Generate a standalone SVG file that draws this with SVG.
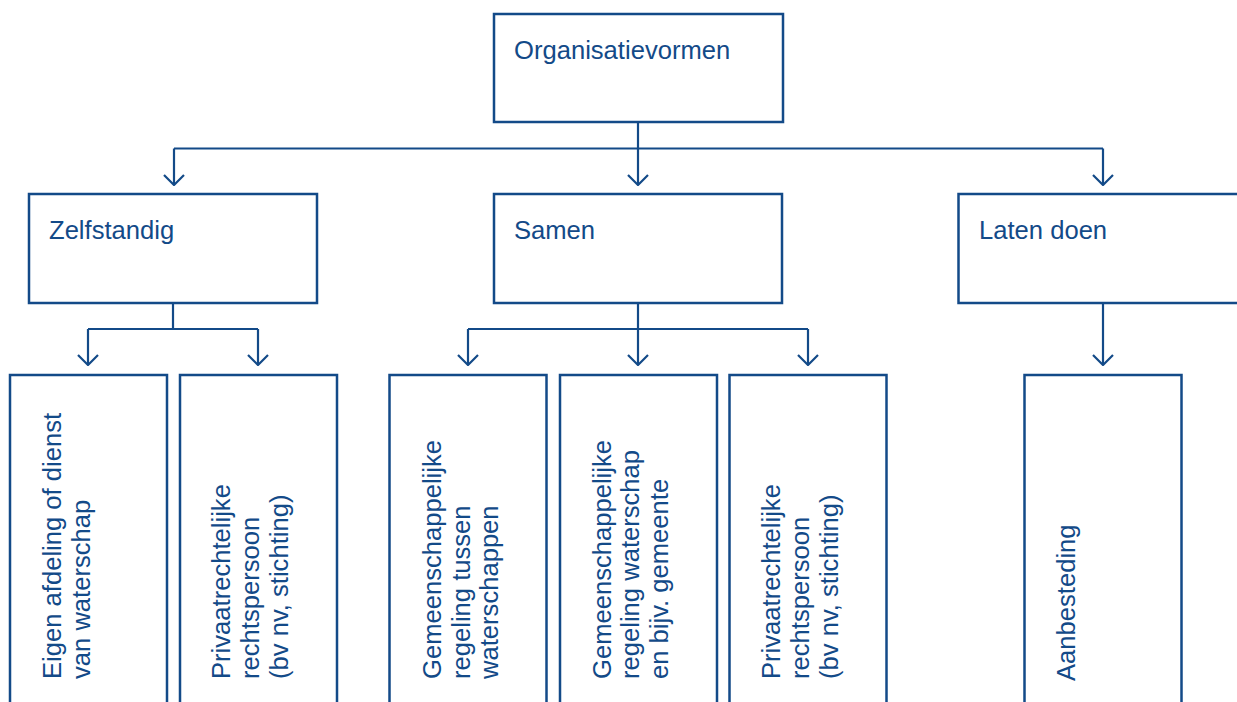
<svg xmlns="http://www.w3.org/2000/svg" width="1237" height="702" viewBox="0 0 1237 702">
  <defs>
    <style>
      .box { fill: #ffffff; stroke: #134a88; stroke-width: 2.5; }
      .lbl { font-family: "Liberation Sans", Arial, sans-serif; font-size: 25.6px; fill: #134a88; }
      .wire { fill: none; stroke: #134a88; stroke-width: 2.2; }
    </style>
    <marker id="chev" viewBox="-11 -11 12 22" refX="0" refY="0" markerWidth="12" markerHeight="22" markerUnits="userSpaceOnUse" orient="auto">
      <path d="M-10,-10 L0,0 L-10,10" fill="none" stroke="#134a88" stroke-width="2.2"/>
    </marker>
  </defs>

  <rect width="1237" height="702" fill="#ffffff"/>

  <!-- connectors -->
  <g id="connectors" class="wire">
    <path d="M638,123 V148.5"/>
    <path d="M174,148.5 H1103"/>
    <path d="M174,148.5 V185" marker-end="url(#chev)"/>
    <path d="M638,148.5 V185" marker-end="url(#chev)"/>
    <path d="M1103,148.5 V185" marker-end="url(#chev)"/>

    <path d="M173,303 V329"/>
    <path d="M88,329 H258"/>
    <path d="M88,329 V365" marker-end="url(#chev)"/>
    <path d="M258,329 V365" marker-end="url(#chev)"/>

    <path d="M638,303 V329"/>
    <path d="M468,329 H808"/>
    <path d="M468,329 V365" marker-end="url(#chev)"/>
    <path d="M638,329 V365" marker-end="url(#chev)"/>
    <path d="M808,329 V365" marker-end="url(#chev)"/>

    <path d="M1103,303 V365" marker-end="url(#chev)"/>
  </g>

  <!-- top level -->
  <g id="organisatievormen">
    <rect class="box" x="494" y="14" width="289" height="108"/>
    <text class="lbl" x="514" y="58.5">Organisatievormen</text>
  </g>

  <!-- second level -->
  <g id="zelfstandig">
    <rect class="box" x="29" y="194" width="288" height="109"/>
    <text class="lbl" x="49" y="239">Zelfstandig</text>
  </g>
  <g id="samen">
    <rect class="box" x="494" y="194" width="288" height="109"/>
    <text class="lbl" x="514" y="239">Samen</text>
  </g>
  <g id="laten-doen">
    <rect class="box" x="958.5" y="194" width="288" height="109"/>
    <text class="lbl" x="979" y="239">Laten doen</text>
  </g>

  <!-- third level: tall boxes with vertical labels -->
  <g id="eigen-afdeling">
    <rect class="box" x="10" y="375" width="157" height="340"/>
    <text class="lbl" transform="translate(60.5,679) rotate(-90)">
      <tspan x="0" y="0">Eigen afdeling of dienst</tspan>
      <tspan x="0" y="29">van waterschap</tspan>
    </text>
  </g>
  <g id="privaatrechtelijk-zelfstandig">
    <rect class="box" x="180" y="375" width="157" height="340"/>
    <text class="lbl" transform="translate(229.5,679) rotate(-90)">
      <tspan x="0" y="0">Privaatrechtelijke</tspan>
      <tspan x="0" y="29">rechtspersoon</tspan>
      <tspan x="0" y="58">(bv nv, stichting)</tspan>
    </text>
  </g>
  <g id="gr-waterschappen">
    <rect class="box" x="389.5" y="375" width="157" height="340"/>
    <text class="lbl" transform="translate(441,679) rotate(-90)">
      <tspan x="0" y="0">Gemeenschappelijke</tspan>
      <tspan x="0" y="28.5">regeling tussen</tspan>
      <tspan x="0" y="57">waterschappen</tspan>
    </text>
  </g>
  <g id="gr-gemeente">
    <rect class="box" x="560" y="375" width="157" height="340"/>
    <text class="lbl" transform="translate(610.5,679) rotate(-90)">
      <tspan x="0" y="0">Gemeenschappelijke</tspan>
      <tspan x="0" y="28.5">regeling waterschap</tspan>
      <tspan x="0" y="57">en bijv. gemeente</tspan>
    </text>
  </g>
  <g id="privaatrechtelijk-samen">
    <rect class="box" x="729.5" y="375" width="157" height="340"/>
    <text class="lbl" transform="translate(779.5,679) rotate(-90)">
      <tspan x="0" y="0">Privaatrechtelijke</tspan>
      <tspan x="0" y="29">rechtspersoon</tspan>
      <tspan x="0" y="58">(bv nv, stichting)</tspan>
    </text>
  </g>
  <g id="aanbesteding">
    <rect class="box" x="1024.5" y="375" width="157" height="340"/>
    <text class="lbl" transform="translate(1075,681) rotate(-90)">
      <tspan x="0" y="0">Aanbesteding</tspan>
    </text>
  </g>
</svg>
